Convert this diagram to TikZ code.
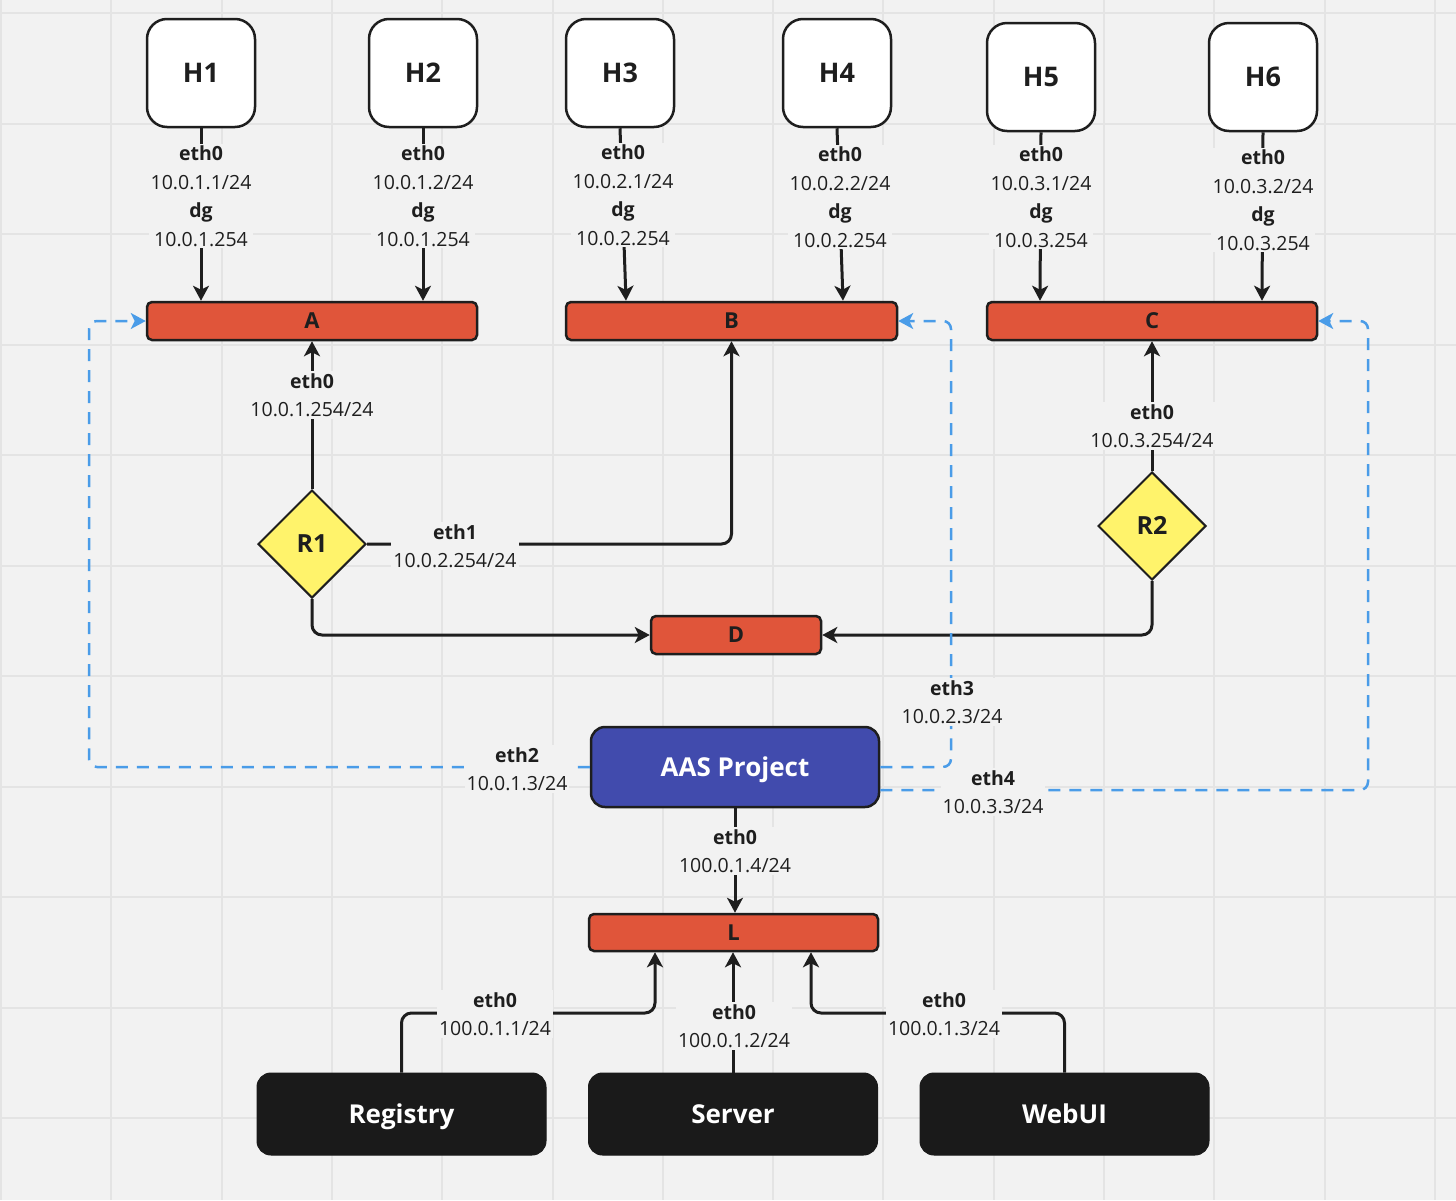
\documentclass[tikz,border=0pt]{standalone}
\usepackage{fontspec}
\setmainfont{Open Sans}
\usetikzlibrary{shapes.geometric,arrows.meta,calc}
\definecolor{bg}{HTML}{F2F2F2}
\definecolor{gridc}{HTML}{E4E4E4}
\definecolor{ink}{HTML}{1E1E1E}
\definecolor{barred}{HTML}{E0553A}
\definecolor{ryellow}{HTML}{FFF36B}
\definecolor{aasblue}{HTML}{414BAD}
\definecolor{dashblue}{HTML}{4A9CE8}
\definecolor{boxblack}{HTML}{1A1A1A}
\tikzset{
  host/.style={draw=ink, line width=2.5pt, fill=white, rounded corners=20pt, minimum width=108pt, minimum height=108pt, inner sep=0pt, font=\fontsize{27}{30}\selectfont\bfseries, text=ink, text height=19.3pt, text depth=0pt},
  bar/.style={draw=ink, line width=2.5pt, fill=barred, rounded corners=5pt, minimum height=38pt, inner sep=0pt, font=\fontsize{22}{24}\selectfont\bfseries, text=ink, text height=15.7pt, text depth=0pt},
  router/.style={diamond, draw=ink, line width=2pt, fill=ryellow, minimum width=108pt, minimum height=108pt, inner sep=0pt, font=\fontsize{25}{28}\selectfont\bfseries, text=ink, text height=17.9pt, text depth=0pt},
  aas/.style={draw=ink, line width=2.5pt, fill=aasblue, rounded corners=14pt, minimum width=288pt, minimum height=80pt, inner sep=0pt, font=\fontsize{26}{28}\selectfont\bfseries, text=white, text height=18.6pt, text depth=0pt},
  appbox/.style={draw=boxblack, line width=1pt, fill=boxblack, rounded corners=14pt, minimum width=289pt, minimum height=82pt, inner sep=0pt, font=\fontsize{26}{28}\selectfont\bfseries, text=white, text height=18.6pt, text depth=0pt},
  conn/.style={draw=ink, line width=3pt, -{Stealth[length=15pt,width=16pt,inset=4pt]}},
  dconn/.style={draw=dashblue, line width=2.5pt, dash pattern=on 12pt off 9pt, rounded corners=8pt, -{Stealth[length=15pt,width=16pt,inset=4pt]}},
  lbl/.style={fill=bg, inner sep=2pt, align=center, text=ink, font=\fontsize{19.5}{28.5}\selectfont},
}
\begin{document}
\begin{tikzpicture}[x=1pt,y=-1pt]
\useasboundingbox (0,0) rectangle (1456,1200);
\fill[bg] (0,0) rectangle (1456,1200);
\foreach \i in {0,...,13} \draw[gridc, line width=2pt] ({1+110.3*\i},0) -- ({1+110.3*\i},1200);
\foreach \j in {0,...,10} \draw[gridc, line width=2pt] (0,{13+110.5*\j}) -- (1456,{13+110.5*\j});

% hosts
\node[host] (H1) at (201,73) {H1};
\node[host] (H2) at (423,73) {H2};
\node[host] (H3) at (620,73) {H3};
\node[host] (H4) at (837,73) {H4};
\node[host] (H5) at (1041,77) {H5};
\node[host] (H6) at (1263,77) {H6};

% bars
\node[bar, minimum width=330pt] (A) at (312,321) {A};
\node[bar, minimum width=331pt] (B) at (731.5,321) {B};
\node[bar, minimum width=330pt] (C) at (1152,321) {C};
\node[bar, minimum width=170pt] (D) at (736,635) {D};
\node[bar, minimum width=289pt, minimum height=37pt] (L) at (733.5,932.5) {L};

% routers
\node[router] (R1) at (312,544) {R1};
\node[router] (R2) at (1152,526) {R2};

% AAS and apps
\node[aas] (AAS) at (735,767) {AAS Project};
\node[appbox] (Reg) at (401.5,1114) {Registry};
\node[appbox] (Srv) at (733,1114) {Server};
\node[appbox] (Web) at (1064.5,1114) {WebUI};

% named helper coordinates
\coordinate (e2) at (89,767);
\coordinate (e3) at (951,767);
\coordinate (e4) at (1368,790);
\coordinate (r1) at (655,1013);
\coordinate (w1) at (811,1013);

% host connectors
\draw[conn] (H1.south) -- (H1.south |- A.north);
\draw[conn] (H2.south) -- (H2.south |- A.north);
\draw[conn] (H3.south) -- ([xshift=6pt]H3.south |- B.north);
\draw[conn] (H4.south) -- ([xshift=6pt]H4.south |- B.north);
\draw[conn] (H5.south) -- ([xshift=-1pt]H5.south |- C.north);
\draw[conn] (H6.south) -- ([xshift=-1pt]H6.south |- C.north);
\node[lbl] (l1) at (201,196) {\textbf{eth0}\\10.0.1.1/24\\\textbf{dg}\\10.0.1.254};
\node[lbl] (l2) at (423,196) {\textbf{eth0}\\10.0.1.2/24\\\textbf{dg}\\10.0.1.254};
\node[lbl] (l3) at (623,195) {\textbf{eth0}\\10.0.2.1/24\\\textbf{dg}\\10.0.2.254};
\node[lbl] (l4) at (840,197) {\textbf{eth0}\\10.0.2.2/24\\\textbf{dg}\\10.0.2.254};
\node[lbl] (l5) at (1041,197) {\textbf{eth0}\\10.0.3.1/24\\\textbf{dg}\\10.0.3.254};
\node[lbl] (l6) at (1263,200) {\textbf{eth0}\\10.0.3.2/24\\\textbf{dg}\\10.0.3.254};

% router connectors
\draw[conn] (R1.north) -- (A.south);
\node[lbl] (lr1a) at (312,395) {\textbf{eth0}\\10.0.1.254/24};
\draw[conn, rounded corners=10pt] (R1.east) -- (B.south |- R1.east) -- (B.south);
\node[lbl] (lr1b) at (455,546) {\textbf{eth1}\\10.0.2.254/24};
\draw[conn, rounded corners=10pt] (R1.south) |- (D.west);
\draw[conn] (R2.north) -- (C.south);
\node[lbl] (lr2) at (1152,426) {\textbf{eth0}\\10.0.3.254/24};
\draw[conn, rounded corners=10pt] (R2.south) |- (D.east);

% AAS dashed links
\draw[dconn] (AAS.west) -- (e2) |- (A.west);
\node[lbl] (la2) at (517,769) {\textbf{eth2}\\10.0.1.3/24};
\draw[dconn] (AAS.east) -- (e3) |- (B.east);
\node[lbl] (la3) at (952,702) {\textbf{eth3}\\10.0.2.3/24};
\draw[dconn] ([yshift=-23pt]AAS.east) -- (e4) |- (C.east);
\node[lbl] (la4) at (993,792) {\textbf{eth4}\\10.0.3.3/24};

% AAS to L
\draw[conn] (AAS.south) -- (AAS.south |- L.north);
\node[lbl] (la0) at (735,851) {\textbf{eth0}\\100.0.1.4/24};

% apps to L
\draw[conn, rounded corners=10pt] (Reg.north) |- (r1) -- (r1 |- L.south);
\node[lbl] (lreg) at (495,1014) {\textbf{eth0}\\100.0.1.1/24};
\draw[conn] (Srv.north) -- (Srv.north |- L.south);
\node[lbl] (lsrv) at (734,1026) {\textbf{eth0}\\100.0.1.2/24};
\draw[conn, rounded corners=10pt] (Web.north) |- (w1) -- (w1 |- L.south);
\node[lbl] (lweb) at (944,1014) {\textbf{eth0}\\100.0.1.3/24};
\end{tikzpicture}
\end{document}
